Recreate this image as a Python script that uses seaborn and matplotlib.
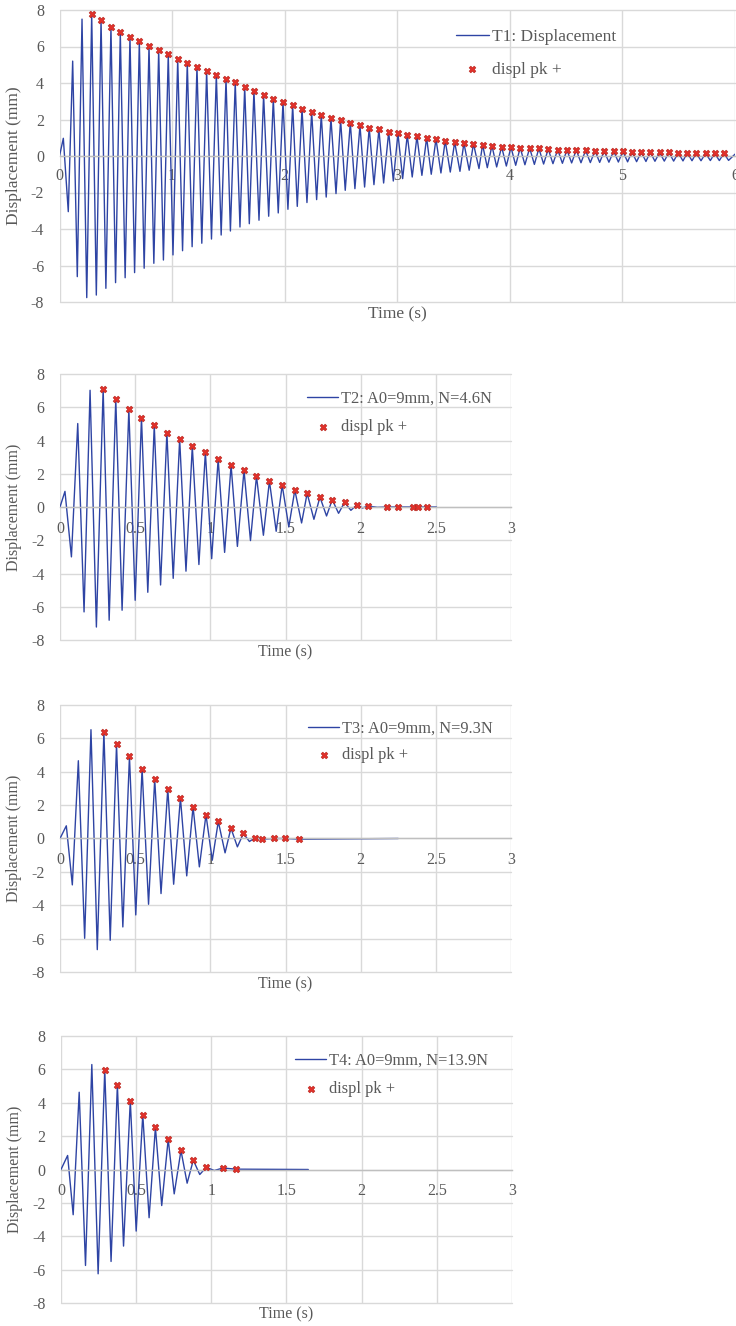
import numpy as np
import pandas as pd
import matplotlib
matplotlib.use("Agg")
import matplotlib.pyplot as plt
import seaborn as sns

# ---------------- data ----------------
# T1 : positive peaks (markers "displ pk +")
t1_pk_t = [0.286, 0.369, 0.457, 0.540, 0.626, 0.709, 0.795, 0.881, 0.966, 1.050,
           1.135, 1.221, 1.307, 1.393, 1.479, 1.561, 1.645, 1.727, 1.813, 1.899,
           1.985, 2.071, 2.154, 2.240, 2.325, 2.411, 2.497, 2.583, 2.669, 2.751,
           2.837, 2.924, 3.006, 3.089, 3.175, 3.261, 3.344, 3.426, 3.510, 3.592,
           3.677, 3.758, 3.841, 3.927, 4.010, 4.092, 4.176, 4.258, 4.341, 4.425,
           4.507, 4.590, 4.673, 4.756, 4.838, 4.922, 5.004, 5.084, 5.167, 5.247,
           5.330, 5.413, 5.496, 5.576, 5.656, 5.739, 5.819, 5.901]
t1_pk_d = [7.78, 7.45, 7.09, 6.78, 6.54, 6.28, 6.05, 5.81, 5.57, 5.32,
           5.11, 4.89, 4.66, 4.46, 4.24, 4.04, 3.78, 3.58, 3.34, 3.14,
           2.98, 2.78, 2.59, 2.41, 2.25, 2.08, 1.97, 1.83, 1.68, 1.55,
           1.46, 1.32, 1.24, 1.15, 1.08, 1.00, 0.93, 0.84, 0.76, 0.71,
           0.67, 0.62, 0.57, 0.51, 0.49, 0.46, 0.44, 0.42, 0.38, 0.35,
           0.33, 0.33, 0.31, 0.29, 0.27, 0.27, 0.26, 0.24, 0.22, 0.22,
           0.20, 0.20, 0.18, 0.18, 0.16, 0.15, 0.15, 0.15]
# T1 : other turning points of the displacement trace (start, first peaks, troughs, end)
t1_ext_t = [0.000, 0.034, 0.078, 0.117, 0.158, 0.200, 0.242,
            0.327, 0.412, 0.498, 0.583, 0.667, 0.752, 0.838, 0.923, 1.008, 1.093,
            1.178, 1.264, 1.350, 1.436, 1.518, 1.603, 1.686, 1.772, 1.858, 1.943,
            2.029, 2.112, 2.198, 2.284, 2.369, 2.456, 2.538, 2.624, 2.710, 2.793,
            2.879, 2.965, 3.048, 3.133, 3.219, 3.302, 3.388, 3.471, 3.557, 3.639,
            3.726, 3.800, 3.883, 3.969, 4.052, 4.134, 4.218, 4.300, 4.383, 4.467,
            4.549, 4.632, 4.715, 4.798, 4.880, 4.964, 5.046, 5.126, 5.209, 5.289,
            5.372, 5.455, 5.538, 5.618, 5.698, 5.781, 5.861, 5.943, 6.000]
t1_ext_d = [0.00, 0.97, -3.05, 5.20, -6.61, 7.50, -7.76,
            -7.62, -7.25, -6.94, -6.67, -6.39, -6.15, -5.88, -5.70, -5.42, -5.19,
            -4.97, -4.78, -4.55, -4.33, -4.11, -3.89, -3.71, -3.52, -3.30, -3.12,
            -2.92, -2.76, -2.55, -2.39, -2.25, -2.06, -1.88, -1.79, -1.70, -1.57,
            -1.48, -1.37, -1.24, -1.15, -1.06, -1.00, -0.93, -0.88, -0.84, -0.78,
            -0.69, -0.64, -0.60, -0.55, -0.51, -0.48, -0.46, -0.44, -0.42, -0.40,
            -0.38, -0.37, -0.36, -0.35, -0.34, -0.33, -0.32, -0.31, -0.30, -0.29,
            -0.28, -0.28, -0.27, -0.26, -0.26, -0.25, -0.25, -0.24, 0.10]

# T2
t2_pk_t = [0.287, 0.371, 0.458, 0.542, 0.627, 0.711, 0.796, 0.880, 0.967, 1.052,
           1.138, 1.224, 1.307, 1.393, 1.478, 1.562, 1.644, 1.729, 1.811, 1.893,
           1.976, 2.049, 2.178, 2.251, 2.347, 2.384, 2.442]
t2_pk_d = [7.10, 6.50, 5.90, 5.38, 4.91, 4.48, 4.08, 3.65, 3.29, 2.89,
           2.51, 2.20, 1.86, 1.56, 1.31, 1.02, 0.82, 0.60, 0.44, 0.28,
           0.14, 0.06, 0.00, 0.00, 0.00, 0.00, 0.00]
t2_ext_t = [0.000, 0.033, 0.076, 0.118, 0.160, 0.200, 0.242, 0.327, 0.413, 0.500,
            0.584, 0.669, 0.753, 0.838, 0.924, 1.009, 1.095, 1.180, 1.267, 1.353,
            1.438, 1.522, 1.607, 1.689, 1.773, 1.853, 1.935, 2.012, 2.110, 2.504]
t2_ext_d = [0.00, 0.94, -3.00, 5.02, -6.31, 7.02, -7.22, -6.81, -6.21, -5.61,
            -5.13, -4.69, -4.29, -3.86, -3.46, -3.11, -2.73, -2.37, -2.02, -1.70,
            -1.46, -1.20, -0.96, -0.74, -0.54, -0.38, -0.20, -0.06, -0.02, 0.00]

# T3
t3_pk_t = [0.292, 0.376, 0.462, 0.546, 0.630, 0.717, 0.801, 0.885, 0.971, 1.053,
           1.137, 1.220, 1.297, 1.343, 1.422, 1.498, 1.593]
t3_pk_d = [6.40, 5.64, 4.92, 4.18, 3.56, 2.98, 2.44, 1.90, 1.42, 1.02,
           0.62, 0.30, 0.04, -0.04, 0.00, 0.00, -0.04]
t3_ext_t = [0.000, 0.042, 0.082, 0.122, 0.164, 0.206, 0.248, 0.334, 0.418, 0.504,
            0.589, 0.672, 0.756, 0.843, 0.927, 1.013, 1.098, 1.180, 1.260, 2.250]
t3_ext_d = [0.00, 0.76, -2.78, 4.66, -5.98, 6.52, -6.66, -6.10, -5.30, -4.58,
            -3.94, -3.30, -2.74, -2.24, -1.70, -1.30, -0.86, -0.50, -0.18, 0.00]

# T4
t4_pk_t = [0.291, 0.375, 0.461, 0.544, 0.628, 0.713, 0.798, 0.880, 0.966, 1.077, 1.163]
t4_pk_d = [5.99, 5.07, 4.13, 3.29, 2.53, 1.82, 1.14, 0.56, 0.13, 0.09, 0.02]
t4_ext_t = [0.000, 0.044, 0.081, 0.121, 0.163, 0.205, 0.247, 0.333, 0.416, 0.500,
            0.586, 0.670, 0.753, 0.839, 0.923, 1.020, 1.645]
t4_ext_d = [0.00, 0.84, -2.71, 4.63, -5.75, 6.29, -6.25, -5.51, -4.59, -3.69,
            -2.89, -2.16, -1.46, -0.82, -0.30, -0.06, 0.00]

series_labels = ["T1: Displacement", "T2: A0=9mm, N=4.6N",
                 "T3: A0=9mm, N=9.3N", "T4: A0=9mm, N=13.9N"]
peak_label = "displ pk +"
y_ticks = [-8, -6, -4, -2, 0, 2, 4, 6, 8]
y_ticklabels = ["-8", "-6", "-4", "-2", "0", "2", "4", "6", "8"]
x_ticks_long = [0, 1, 2, 3, 4, 5, 6]
x_ticklabels_long = ["0", "1", "2", "3", "4", "5", "6"]
x_ticks_short = [0, 0.5, 1, 1.5, 2, 2.5, 3]
x_ticklabels_short = ["0", "0.5", "1", "1.5", "2", "2.5", "3"]
x_label = "Time (s)"
y_label = "Displacement (mm)"

# ---------------- style ----------------
sns.set_style("whitegrid")
plt.rcParams['font.family'] = ['Liberation Serif', 'DejaVu Serif']

BLUE = "#2E44A4"
RED = "#E2302A"
GRID = "#D9D9D9"
TXT = "#595959"

W, H = 736, 1326
fig = plt.figure(figsize=(W / 100, H / 100), dpi=100)


def add_axes(left, right, top, bottom):
    return fig.add_axes([left / W, 1 - bottom / H, (right - left) / W, (bottom - top) / H])


def panel(ax, ext_t, ext_d, pk_t, pk_d, label, xticks, xticklabels,
          fs_tick, fs_lab, fs_leg, leg_left, leg_top, leg_ls, ylab_x, xlab_y, xpad):
    line_df = pd.DataFrame({"t": list(ext_t) + list(pk_t),
                            "d": list(ext_d) + list(pk_d)}).sort_values("t")
    pk_df = pd.DataFrame({"t": pk_t, "d": pk_d})
    sns.lineplot(data=line_df, x="t", y="d", ax=ax, color=BLUE, linewidth=1.0,
                 estimator=None, sort=True, label=label, zorder=2)
    sns.scatterplot(data=pk_df, x="t", y="d", ax=ax, marker="X", s=24,
                    color=RED, edgecolor="#B5241C", linewidth=0.4,
                    label=peak_label, zorder=3)
    ax.set_xlim(xticks[0], xticks[-1])
    ax.set_ylim(-8, 8)
    ax.set_xticks(xticks)
    ax.set_xticklabels(xticklabels)
    ax.set_yticks(y_ticks)
    ax.set_yticklabels(y_ticklabels)
    ax.grid(True, color=GRID, linewidth=1.0)
    for gl in ax.get_xgridlines() + ax.get_ygridlines():
        gl.set_clip_on(False)
    ax.set_axisbelow(True)
    for s in ("top", "right", "left"):
        ax.spines[s].set_visible(False)
    ax.spines["bottom"].set_position(("data", 0))
    ax.spines["bottom"].set_color("#BFBFBF")
    ax.spines["bottom"].set_linewidth(1.0)
    ax.tick_params(axis="both", length=0, labelcolor=TXT, labelsize=fs_tick)
    ax.tick_params(axis="x", pad=xpad)
    ax.tick_params(axis="y", pad=11)
    ax.set_xlabel(x_label, color=TXT, fontsize=fs_lab, va="center")
    ax.set_ylabel(y_label, color=TXT, fontsize=fs_lab, va="center")
    ax.xaxis.set_label_coords(0.5, xlab_y)
    ax.yaxis.set_label_coords(ylab_x, 0.5)
    leg = ax.legend(loc="upper left", bbox_to_anchor=(leg_left / W, 1 - leg_top / H),
                    bbox_transform=fig.transFigure, frameon=False, fontsize=fs_leg,
                    borderpad=0, borderaxespad=0, handlelength=1.9,
                    handletextpad=0.2, labelspacing=leg_ls)
    for txt in leg.get_texts():
        txt.set_color(TXT)


ax1 = add_axes(59.5, 735, 10, 302)
panel(ax1, t1_ext_t, t1_ext_d, t1_pk_t, t1_pk_d, series_labels[0],
      x_ticks_long, x_ticklabels_long, 11.5, 12.5, 12.5, 456, 29, 0.95, -0.068, -0.041, 9)

ax2 = add_axes(60, 511, 374, 640)
panel(ax2, t2_ext_t, t2_ext_d, t2_pk_t, t2_pk_d, series_labels[1],
      x_ticks_short, x_ticklabels_short, 11.5, 11.5, 11.8, 307, 391, 0.75, -0.102, -0.045, 10)

ax3 = add_axes(60, 511, 705, 972)
panel(ax3, t3_ext_t, t3_ext_d, t3_pk_t, t3_pk_d, series_labels[2],
      x_ticks_short, x_ticklabels_short, 11.5, 11.5, 11.8, 308, 721, 0.6, -0.102, -0.045, 10)

ax4 = add_axes(61, 512, 1036, 1303)
panel(ax4, t4_ext_t, t4_ext_d, t4_pk_t, t4_pk_d, series_labels[3],
      x_ticks_short, x_ticklabels_short, 11.5, 11.5, 11.8, 295, 1053, 0.75, -0.102, -0.042, 10)

fig.savefig("out.png", dpi=100)
